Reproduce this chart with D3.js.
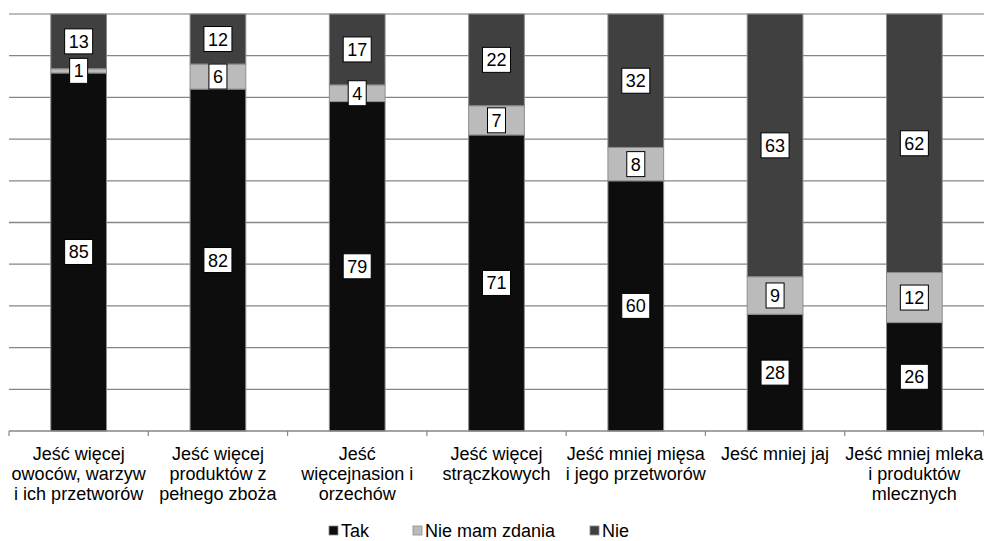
<!DOCTYPE html>
<html>
<head>
<meta charset="utf-8">
<script src="https://cdn.jsdelivr.net/npm/d3@7"></script>
<style>
  body { margin: 0; background: #fff; }
  text { font-family: "Liberation Sans", Arial, sans-serif; }
</style>
</head>
<body>
<div id="chart"></div>
<script>
// chart data
var categories = [
  ["Jeść więcej", "owoców, warzyw", "i ich przetworów"],
  ["Jeść więcej", "produktów z", "pełnego zboża"],
  ["Jeść", "więcejnasion i", "orzechów"],
  ["Jeść więcej", "strączkowych"],
  ["Jeść mniej mięsa", "i jego przetworów"],
  ["Jeść mniej jaj"],
  ["Jeść mniej mleka", "i produktów", "mlecznych"]
];
var seriesNames = ["Tak", "Nie mam zdania", "Nie"];
var takValues = [85, 82, 79, 71, 60, 28, 26];
var noOpinionValues = [1, 6, 4, 7, 8, 9, 12];
var nieValues = [13, 12, 17, 22, 32, 63, 62];
var yTicks = [0, 0.1, 0.2, 0.3, 0.4, 0.5, 0.6, 0.7, 0.8, 0.9, 1];

var colors = ["#0d0d0d", "#bbbbbb", "#404040"];

var svgWidth = 984;
var svgHeight = 541;

var margin = { top: 14, right: 0, bottom: 110, left: 9 };
var width = svgWidth - margin.left - margin.right;
var height = svgHeight - margin.top - margin.bottom;

var svg = d3.select("#chart")
  .append("svg")
  .attr("width", svgWidth)
  .attr("height", svgHeight);

var chartGroup = svg.append("g")
  .attr("transform", `translate(${margin.left}, ${margin.top})`);

// build rows for the stack
var rows = categories.map(function(c, i) {
  return { idx: i, Tak: takValues[i], "Nie mam zdania": noOpinionValues[i], Nie: nieValues[i] };
});

var stack = d3.stack()
  .keys(seriesNames)
  .offset(d3.stackOffsetExpand);
var layers = stack(rows);

var xScale = d3.scaleBand()
  .domain(d3.range(categories.length))
  .range([0, width])
  .paddingInner(0.6)
  .paddingOuter(0.3);

var xTickScale = d3.scaleLinear()
  .domain([0, categories.length])
  .range([0, width]);

var yScale = d3.scaleLinear()
  .domain([0, 1])
  .range([height, 0]);

// gridlines
chartGroup.append("g")
  .selectAll("line")
  .data(yTicks.slice(1))
  .enter()
  .append("line")
  .attr("x1", 0)
  .attr("x2", width)
  .attr("y1", d => yScale(d))
  .attr("y2", d => yScale(d))
  .attr("stroke", (d, i) => i === yTicks.length - 2 ? "#a6a6a6" : "#868686")
  .attr("stroke-width", 1.3);

// bars
var layerGroups = chartGroup.selectAll(".layer")
  .data(layers)
  .enter()
  .append("g")
  .attr("class", "layer")
  .attr("fill", (d, i) => colors[i]);

layerGroups.selectAll("rect")
  .data(d => d)
  .enter()
  .append("rect")
  .attr("x", d => xScale(d.data.idx))
  .attr("width", xScale.bandwidth())
  .attr("y", d => yScale(d[1]))
  .attr("height", d => yScale(d[0]) - yScale(d[1]))
  .attr("stroke", "#8c8c8c")
  .attr("stroke-width", 1);

// x axis
var axisGroup = chartGroup.append("g")
  .attr("transform", `translate(0, ${height})`);

axisGroup.append("line")
  .attr("x1", 0)
  .attr("x2", width)
  .attr("stroke", "#868686")
  .attr("stroke-width", 1.5);

axisGroup.selectAll(".tick")
  .data(d3.range(categories.length + 1))
  .enter()
  .append("line")
  .attr("x1", d => xTickScale(d))
  .attr("x2", d => xTickScale(d))
  .attr("y1", 0)
  .attr("y2", 5)
  .attr("stroke", "#868686")
  .attr("stroke-width", 1.2);

var catLabels = axisGroup.selectAll(".cat")
  .data(categories)
  .enter()
  .append("text")
  .attr("class", "cat")
  .attr("text-anchor", "middle")
  .attr("font-size", "18px")
  .attr("fill", "#000");

catLabels.selectAll("tspan")
  .data((d, i) => d.map(line => ({ line: line, idx: i })))
  .enter()
  .append("tspan")
  .attr("x", d => xScale(d.idx) + xScale.bandwidth() / 2)
  .attr("y", (d, j) => 28.5 + j * 20)
  .text(d => d.line);

// value labels
var labelGroup = chartGroup.append("g");
layers.forEach(function(layer, li) {
  layer.forEach(function(d) {
    var v = d.data[seriesNames[li]];
    var cx = xScale(d.data.idx) + xScale.bandwidth() / 2;
    var cy = (yScale(d[0]) + yScale(d[1])) / 2;
    var g = labelGroup.append("g")
      .attr("transform", `translate(${cx}, ${cy})`);
    var t = g.append("text")
      .attr("text-anchor", "middle")
      .attr("dy", "0.36em")
      .attr("font-size", "18px")
      .attr("fill", "#000")
      .text(v);
    var bb = t.node().getBBox();
    g.insert("rect", "text")
      .attr("x", bb.x - 4)
      .attr("y", -12.5)
      .attr("width", bb.width + 8)
      .attr("height", 25)
      .attr("fill", "#fff")
      .attr("stroke", "#000")
      .attr("stroke-width", 1);
  });
});

// legend
var legendX = [329, 413, 590];
var legend = svg.append("g")
  .attr("transform", "translate(0, 531)");

var legendItems = legend.selectAll(".item")
  .data(seriesNames)
  .enter()
  .append("g")
  .attr("class", "item")
  .attr("transform", (d, i) => `translate(${legendX[i]}, 0)`);

legendItems.append("rect")
  .attr("x", 0)
  .attr("y", -5)
  .attr("width", 9)
  .attr("height", 9)
  .attr("fill", (d, i) => colors[i])
  .attr("stroke", "#8c8c8c")
  .attr("stroke-width", 0.8);

legendItems.append("text")
  .attr("x", 12)
  .attr("dy", "0.35em")
  .attr("font-size", "18px")
  .attr("fill", "#000")
  .text(d => d);
</script>
</body>
</html>
